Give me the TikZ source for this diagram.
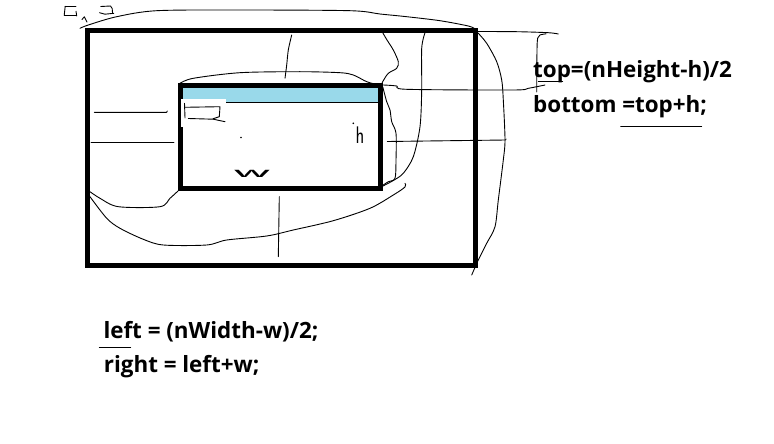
\documentclass[tikz,border=0pt]{standalone}
\usepackage{fontspec}
\newfontfamily\labfont{Open Sans}
\definecolor{paintblue}{RGB}{153,217,234}
\begin{document}
\begin{tikzpicture}[x=1pt,y=-1pt,
  frame/.style={draw=black, line width=5pt, inner sep=0pt, outer sep=0pt},
  scribble/.style={line width=0.9pt, line join=round, line cap=round},
  formula/.style={font=\labfont\bfseries\fontsize{22.4}{26}\selectfont, anchor=base west, inner sep=0pt},
  hand/.style={font=\sffamily\fontsize{24}{26}\selectfont, inner sep=0pt}]
\useasboundingbox (0,0) rectangle (774,444);
\fill[white] (0,0) rectangle (774,444);
% blue title band of the inner window
\fill[paintblue] (180.5,86) rectangle (380,102.3);
\draw[scribble] (180.5,102.3) -- (380,102.3);
% frames
\node[frame, minimum width=199.5pt, minimum height=102.7pt] (inner) at (280.25,137.35) {};
\node[frame, minimum width=387.5pt, minimum height=235pt] (outer) at (281.25,148) {};
% white patch with small glyph
\fill[white] (181.2,99) rectangle (226,126.7);
\draw[scribble] (184.5,103.3) -- (185,118);
\draw[scribble] (184.5,107.3) -- (220,106.7) -- (219.3,116.7) -- (213,118.8);
\draw[scribble] (188.3,118.5) -- (213.3,119.2) -- (225,121.7);
% top-left glyphs
\draw[scribble] (65.2,6.3) -- (76,6.3);
\draw[scribble] (65.2,6.3) -- (64.2,15.5) -- (76,15.5);
\draw[scribble] (76,11.2) -- (76.7,16);
\draw[scribble] (82,19.5) -- (84.3,16.8) -- (87,22);
\draw[scribble] (100.7,6.5) -- (110.5,6) -- (112.2,8.5) -- (112.5,12.7);
\draw[scribble] (99.5,12.7) -- (105,14.2) -- (113.8,13.3);
% handwritten labels
\node[hand] (hlabel) at (360,135) {\scalebox{0.75}[1]{h}};
\fill (353.3,123.3) circle (0.9);
\node[hand] (wlabel) at (252,174) {\scalebox{2.4}[0.7]{w}};
\fill (241,137.5) circle (0.8);
% scribbles
\draw[scribble] plot[smooth, tension=0.5] coordinates {(80,28.3) (88.3,25) (116.7,16.7) (156.7,10.7) (240,10) (350,10.7) (380,14) (406.7,16.7) (440,20.7) (468.3,26) (475,29)};
\draw[scribble] plot[smooth, tension=0.5] coordinates {(478,33) (486.7,43.3) (496.7,61.7) (501.7,80) (503.3,100) (505,140) (503.3,160) (498.3,200) (495,226.7) (486.7,243.3) (478.3,260) (471.7,275)};
\draw[scribble] plot[smooth, tension=0.5] coordinates {(477,31.5) (516.7,31.7) (548.3,32.7) (558.3,34)};
\draw[scribble] plot[smooth, tension=0.5] coordinates {(546,33.8) (540,35) (537.7,38) (537,50) (536.7,92)};
\draw[scribble] plot[smooth, tension=0.5] coordinates {(383.3,85) (396.7,86) (406.7,89.3) (513.3,90) (528.3,88.3) (545,85)};
\draw[scribble] (387.3,141.5) -- (505.5,140) -- (506,139);
\draw[scribble] plot[smooth, tension=0.5] coordinates {(180,83.3) (193.3,78.3) (240,72.7) (300,71.7) (340,72.7) (353.3,75) (366.7,81.7) (377,84.5)};
\draw[scribble] plot[smooth, tension=0.5] coordinates {(382.7,32.7) (387,40) (393.3,50) (398.3,61.7) (396.7,68.3) (388.3,73.3) (382.7,81.7) (381.5,85)};
\draw[scribble] plot[smooth, tension=0.5] coordinates {(382.7,86.7) (386.7,101.7) (390,110) (391.7,121.7) (396,133.3) (396,160) (395,178.3) (388.3,181.7) (383.3,185)};
\draw[scribble] plot[smooth, tension=0.5] coordinates {(425,32.7) (421.7,48.3) (421.7,90) (420,126.7) (413.3,156.7) (403.3,173.3) (393.3,180.5) (383,186)};
\draw[scribble] plot[smooth, tension=0.5] coordinates {(405,183.3) (405,187) (393.3,195) (370,208.3) (333.3,220.7) (293.3,230) (266.7,236) (226.7,240) (206.7,245) (163.3,245) (143.3,239.3) (120,228.3) (106.7,218.3) (90,196.7)};
\draw[scribble] plot[smooth, tension=0.5] coordinates {(90,191.7) (100,198.3) (118.3,206.7) (160,206.7) (170,198.3) (178,191)};
\draw[scribble] (94.3,112.3) -- (166.7,112.3) -- (167.3,111);
\draw[scribble] (91,142.3) -- (174,142.3);
\draw[scribble] plot[smooth, tension=0.5] coordinates {(291.7,35) (288.3,50) (286.7,65) (285,78.3)};
\draw[scribble] (279.3,196.7) -- (278.3,256.7);
% formulas
\node[formula] (toptxt) at (533,77.3) {top=(nHeight-h)/2};
\node[formula] (bottomtxt) at (533,112.7) {bottom =top+h;};
\node[formula] (lefttxt) at (103.3,338.3) {left = (nWidth-w)/2;};
\node[formula] (righttxt) at (103.7,372.7) {right = left+w;};
% underlines
\draw[scribble] (99.3,347) -- (130.7,347);
\draw[scribble] (538.3,81.7) -- (562.7,81.7);
\draw[scribble] (620.7,126.7) -- (701.7,126.7);
\end{tikzpicture}
\end{document}
